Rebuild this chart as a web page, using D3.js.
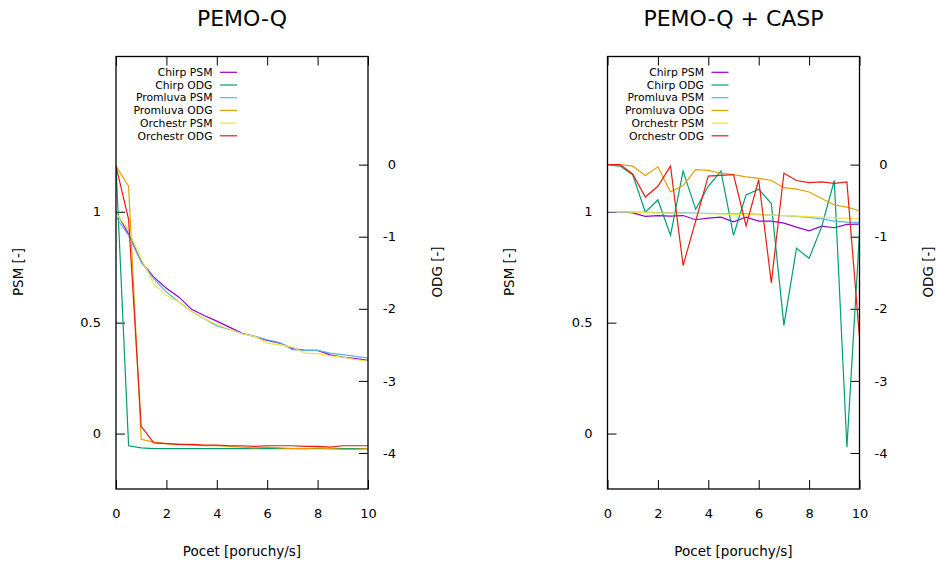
<!DOCTYPE html>
<html><head><meta charset="utf-8">
<script src="https://cdn.jsdelivr.net/npm/d3@7"></script>
<style>body{margin:0;background:#fff}svg{display:block}text{font-family:"DejaVu Sans",sans-serif;fill:#000}</style>
</head><body>
<script>
// x positions (poruchy/s)
const xs = [0,0.5,1,1.5,2,2.5,3,3.5,4,4.5,5,5.5,6,6.5,7,7.5,8,8.5,9,9.5,10];
const xTicks = [0,2,4,6,8,10];
const psmTicks = [0,0.5,1];
const odgTicks = [0,-1,-2,-3,-4];
const seriesNames = ["Chirp PSM","Chirp ODG","Promluva PSM","Promluva ODG","Orchestr PSM","Orchestr ODG"];
const seriesAxis = ["psm","odg","psm","odg","psm","odg"];
const seriesColors = ["#9400d3","#009e73","#56b4e9","#e69f00","#f0e442","#e51e10"];
const titles = ["PEMO-Q","PEMO-Q + CASP"];

// PEMO-Q
const chirpPSM_L = [1.0,0.90,0.775,0.705,0.655,0.615,0.56,0.532,0.507,0.48,0.452,0.438,0.42,0.408,0.383,0.375,0.375,0.355,0.345,0.338,0.33];
const chirpODG_L = [-0.02,-3.90,-3.93,-3.94,-3.94,-3.94,-3.94,-3.94,-3.94,-3.94,-3.94,-3.94,-3.94,-3.94,-3.94,-3.94,-3.94,-3.94,-3.94,-3.94,-3.94];
const promPSM_L = [0.976,0.893,0.773,0.698,0.638,0.593,0.55,0.518,0.485,0.47,0.45,0.438,0.423,0.41,0.378,0.375,0.375,0.363,0.356,0.348,0.34];
const promODG_L = [-0.02,-0.30,-3.81,-3.85,-3.87,-3.88,-3.89,-3.90,-3.90,-3.91,-3.92,-3.93,-3.92,-3.93,-3.94,-3.94,-3.93,-3.94,-3.95,-3.95,-3.94];
const orchPSM_L = [0.995,0.916,0.788,0.676,0.623,0.593,0.55,0.518,0.492,0.47,0.45,0.438,0.408,0.40,0.39,0.363,0.36,0.35,0.345,0.333,0.327];
const orchODG_L = [-0.02,-0.76,-3.63,-3.86,-3.87,-3.88,-3.88,-3.89,-3.89,-3.90,-3.90,-3.91,-3.90,-3.90,-3.90,-3.91,-3.91,-3.92,-3.90,-3.90,-3.90];

// PEMO-Q + CASP
const chirpPSM_R = [1.0,1.0,0.995,0.979,0.983,0.98,0.983,0.964,0.971,0.976,0.955,0.976,0.958,0.958,0.949,0.931,0.914,0.935,0.928,0.943,0.944];
const chirpODG_R = [0,-0.02,-0.14,-0.66,-0.49,-0.98,-0.09,-0.62,-0.30,-0.09,-0.98,-0.42,-0.34,-0.54,-2.23,-1.16,-1.30,-0.86,-0.22,-3.92,-0.95];
const promPSM_R = [1.0,0.999,0.998,0.997,0.996,0.995,0.995,0.994,0.993,0.992,0.991,0.99,0.988,0.985,0.982,0.979,0.975,0.968,0.958,0.953,0.952];
const promODG_R = [0,0,-0.02,-0.15,-0.03,-0.38,-0.29,-0.07,-0.08,-0.12,-0.14,-0.17,-0.19,-0.22,-0.32,-0.34,-0.38,-0.47,-0.56,-0.59,-0.64];
const orchPSM_R = [1.002,1.0,0.998,0.996,0.995,0.994,0.993,0.992,0.991,0.99,0.988,0.987,0.986,0.985,0.983,0.98,0.978,0.976,0.973,0.97,0.968];
const orchODG_R = [0,0,-0.13,-0.45,-0.30,-0.02,-1.40,-0.78,-0.16,-0.15,-0.14,-0.85,-0.21,-1.64,-0.12,-0.22,-0.25,-0.24,-0.26,-0.24,-2.40];

const panelsData = [
  [chirpPSM_L,chirpODG_L,promPSM_L,promODG_L,orchPSM_L,orchODG_L],
  [chirpPSM_R,chirpODG_R,promPSM_R,promODG_R,orchPSM_R,orchODG_R]
];

const W = 936, H = 567;
const svg = d3.select("body").append("svg").attr("width",W).attr("height",H);
const plotTop = 56.5, plotBottom = 489;
const panelX = [[116,368],[607.5,859.5]];
const tickLen = 9;

panelsData.forEach((series,pi)=>{
  const [x0,x1] = panelX[pi];
  const xS = d3.scaleLinear().domain([0,10]).range([x0,x1]);
  const yP = d3.scaleLinear().domain([-0.25,1.7]).range([plotBottom,plotTop]);
  const yO = d3.scaleLinear().domain([-4.5,1.5]).range([plotBottom,plotTop]);
  const g = svg.append("g");
  const cid = "clip"+pi;
  svg.append("clipPath").attr("id",cid).append("rect")
    .attr("x",x0).attr("y",plotTop).attr("width",x1-x0).attr("height",plotBottom-plotTop);

  const xAx = g.append("g").attr("transform",`translate(0,${plotBottom})`)
    .call(d3.axisBottom(xS).tickValues(xTicks).tickFormat(d3.format("d")).tickSizeInner(-tickLen).tickSizeOuter(0).tickPadding(20));
  const xAxT = g.append("g").attr("transform",`translate(0,${plotTop})`)
    .call(d3.axisTop(xS).tickValues(xTicks).tickFormat("").tickSizeInner(-tickLen).tickSizeOuter(0));
  const yAx = g.append("g").attr("transform",`translate(${x0},0)`)
    .call(d3.axisLeft(yP).tickValues(psmTicks).tickFormat(d=>String(d)).tickSizeInner(-tickLen).tickSizeOuter(0).tickPadding(15));
  const y2Ax = g.append("g").attr("transform",`translate(${x1},0)`)
    .call(d3.axisRight(yO).tickValues(odgTicks).tickFormat(d=>String(d)).tickSizeInner(-tickLen).tickSizeOuter(0).tickPadding(28));
  [xAx,xAxT,yAx,y2Ax].forEach(a=>{
    a.select(".domain").remove();
    a.selectAll(".tick line").attr("stroke","#000").attr("stroke-width",1);
    a.selectAll("text").attr("font-size",13).attr("font-family","DejaVu Sans").attr("fill","#000");
  });
  y2Ax.selectAll("text").attr("text-anchor","end");

  const lg = g.append("g").attr("clip-path",`url(#${cid})`);
  series.forEach((vals,si)=>{
    const ys = seriesAxis[si]==="psm"?yP:yO;
    const line = d3.line().x((d,i)=>xS(xs[i])).y(d=>ys(d));
    lg.append("path").datum(vals).attr("d",line).attr("fill","none")
      .attr("stroke",seriesColors[si]).attr("stroke-width",1.2).attr("stroke-linejoin","miter");
  });

  g.append("rect").attr("x",x0).attr("y",plotTop).attr("width",x1-x0).attr("height",plotBottom-plotTop)
    .attr("fill","none").attr("stroke","#000").attr("stroke-width",1.3);

  const leg = g.append("g");
  seriesNames.forEach((n,si)=>{
    const yy = 72.3 + 12.7*si;
    leg.append("text").attr("x",x0+96.5).attr("y",yy).attr("dy","0.35em")
      .attr("text-anchor","end").attr("font-size",10.8).text(n);
    leg.append("line").attr("x1",x0+104).attr("x2",x0+121).attr("y1",yy).attr("y2",yy)
      .attr("stroke",seriesColors[si]).attr("stroke-width",1.2);
  });

  const cx = (x0+x1)/2;
  g.append("text").attr("x",cx).attr("y",18).attr("dy","0.35em").attr("text-anchor","middle")
    .attr("font-size",22).text(titles[pi]);
  g.append("text").attr("x",cx).attr("y",551).attr("dy","0.35em").attr("text-anchor","middle")
    .attr("font-size",13.5).text("Pocet [poruchy/s]");
  g.append("text").attr("transform",`translate(${x0-98},272) rotate(-90)`).attr("dy","0.35em")
    .attr("text-anchor","middle").attr("font-size",13.5).text("PSM [-]");
  g.append("text").attr("transform",`translate(${x1+69},272) rotate(-90)`).attr("dy","0.35em")
    .attr("text-anchor","middle").attr("font-size",13.5).text("ODG [-]");
});
</script>
</body></html>
